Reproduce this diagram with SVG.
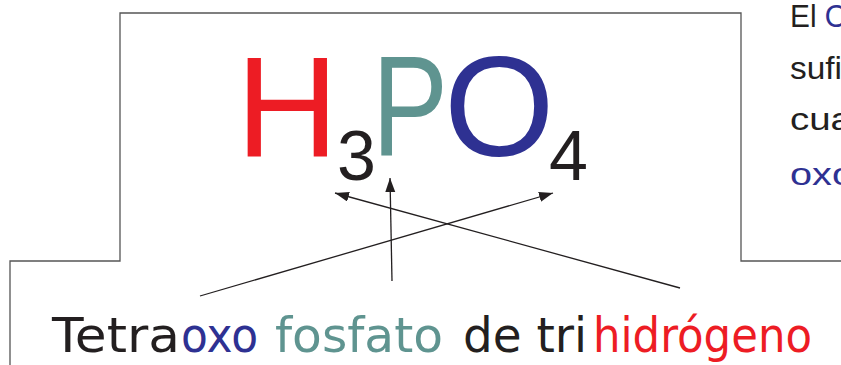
<svg xmlns="http://www.w3.org/2000/svg" width="841" height="365" viewBox="0 0 841 365">
  <style>
    .frame { fill: none; stroke: #555555; stroke-width: 1.3; }
    .conn { fill: none; stroke: #231f20; stroke-width: 1.3; }
    .f { font-family: "Liberation Sans", "DejaVu Sans", sans-serif; }
    .side { font-family: "Liberation Sans", "DejaVu Sans", sans-serif; font-size: 31px; fill: #231f20; }
    .name { font-family: "DejaVu Sans", "Liberation Sans", sans-serif; font-size: 48px; }
    .red { fill: #ed1c24; }
    .teal { fill: #5f9490; }
    .blue { fill: #2e3192; }
    .black { fill: #231f20; }
  </style>
  <defs>
    <marker id="arrow" markerUnits="userSpaceOnUse" markerWidth="16" markerHeight="12" refX="14" refY="5" orient="auto">
      <path d="M0,0 L14,5 L0,10 z" fill="#231f20"/>
    </marker>
  </defs>

  <g id="frame">
    <polyline class="frame" points="10,365 10,261 120,261 120,13 741,13 741,261 841,261"/>
  </g>

  <g id="side-text">
    <text class="side" x="790" y="27" textLength="58" lengthAdjust="spacingAndGlyphs">El <tspan class="blue">O</tspan></text>
    <text class="side" x="790" y="79" textLength="52" lengthAdjust="spacingAndGlyphs">sufi</text>
    <text class="side" x="790" y="130" textLength="62" lengthAdjust="spacingAndGlyphs">cua</text>
    <text class="side blue" x="790" y="185" textLength="64" lengthAdjust="spacingAndGlyphs">oxo</text>
  </g>

  <g id="formula">
    <text class="f red" x="236" y="157" font-size="142">H</text>
    <text class="f black" x="337" y="180" font-size="70">3</text>
    <text class="f teal" x="372" y="155" font-size="142" textLength="76" lengthAdjust="spacingAndGlyphs">P</text>
    <text class="f blue" x="444" y="156" font-size="142">O</text>
    <text class="f black" x="549" y="180" font-size="70">4</text>
  </g>

  <g id="connectors">
    <line class="conn" x1="200" y1="296" x2="553" y2="193" marker-end="url(#arrow)"/>
    <line class="conn" x1="680" y1="288" x2="335" y2="193" marker-end="url(#arrow)"/>
    <line class="conn" x1="392" y1="281" x2="390" y2="178" marker-end="url(#arrow)"/>
  </g>

  <g id="name">
    <text class="name black" x="52" y="352" textLength="128" lengthAdjust="spacingAndGlyphs">Tetra</text>
    <text class="name blue" x="181" y="352" textLength="77" lengthAdjust="spacingAndGlyphs">oxo</text>
    <text class="name teal" x="275" y="352" textLength="168" lengthAdjust="spacingAndGlyphs">fosfato</text>
    <text class="name black" x="463" y="352" textLength="124" lengthAdjust="spacingAndGlyphs">de tri</text>
    <text class="name red" x="593" y="352" textLength="219" lengthAdjust="spacingAndGlyphs">hidrógeno</text>
  </g>
</svg>
